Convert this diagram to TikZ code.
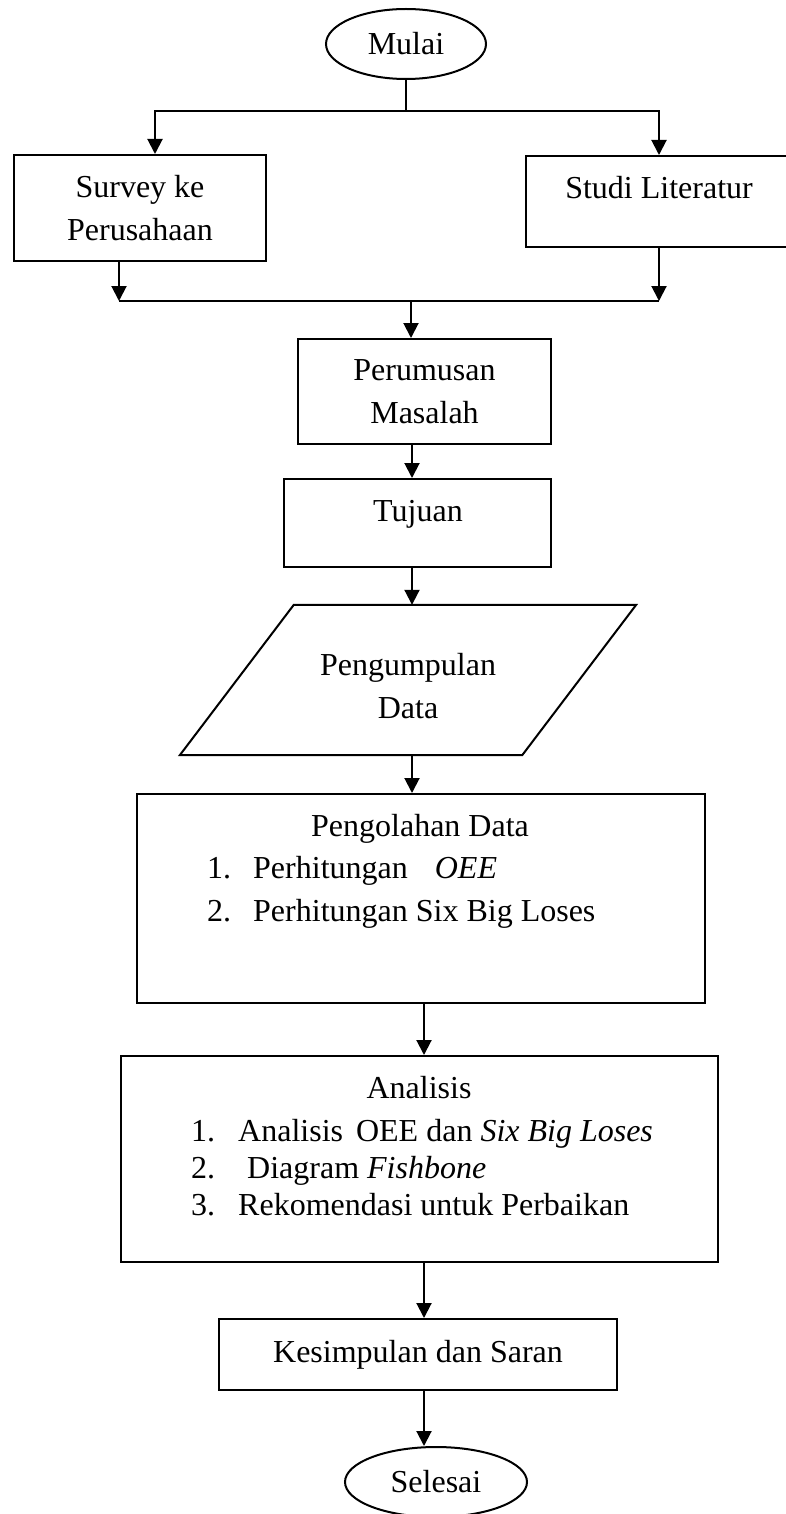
\documentclass[tikz,border=0pt]{standalone}
\usepackage{fontspec}
\setmainfont{Liberation Serif}
\usetikzlibrary{shapes.geometric}
\usetikzlibrary{arrows.meta}

\tikzset{
  kotak/.style={draw, line width=2pt, inner sep=0pt},
  oval/.style={draw, ellipse, line width=2pt, inner sep=0pt},
  teks/.style={inner sep=0pt, anchor=base},
  teksk/.style={inner sep=0pt, anchor=base west},
  panah/.style={line width=2pt, -{Triangle[length=15pt,width=15pt]}},
  garis/.style={line width=2pt}
}

\begin{document}
\begin{tikzpicture}[x=1pt, y=-1pt, every node/.style={font=\fontsize{32}{43}\selectfont, align=center}]
\useasboundingbox (0,0) rectangle (785,1514);

% Mulai
\node[oval, minimum width=160, minimum height=70] (mulai) at (406,44) {Mulai};

% Survey dan Studi Literatur
\node[kotak, minimum width=252, minimum height=106] (survey) at (140,208) {Survey ke\\Perusahaan};
\node[kotak, minimum width=266, minimum height=91] (studi) at (659,201.5) {};
\node[teks] (studiT) at (659,199) {Studi Literatur};

% Perumusan Masalah
\node[kotak, minimum width=253, minimum height=105] (rumus) at (424.5,391.5) {Perumusan\\Masalah};

% Tujuan
\node[kotak, minimum width=267, minimum height=88] (tujuan) at (417.5,523) {};
\node[teks] (tujuanT) at (418,521) {Tujuan};

% Pengumpulan Data (jajaran genjang)
\node[inner sep=0pt, minimum width=342, minimum height=150] (kumpul) at (408,680) {};
\draw[garis] ([xshift=57pt]kumpul.north west) -- ([xshift=57pt]kumpul.north east)
  -- ([xshift=-57pt]kumpul.south east) -- ([xshift=-57pt]kumpul.south west) -- cycle;
\node[teks] (kumpulT) at (408,718) {Pengumpulan\\Data};

% Pengolahan Data
\node[kotak, minimum width=568, minimum height=209] (olah) at (421,898.5) {};
\node[teks] (olahT) at (420,836) {Pengolahan Data};
\node[teksk] (olah1n) at (207,878) {1.};
\node[teksk] (olah1) at (253,878) {Perhitungan\hspace{27pt}\textit{OEE}};
\node[teksk] (olah2n) at (207,921) {2.};
\node[teksk] (olah2) at (253,921) {Perhitungan Six Big Loses};

% Analisis
\node[kotak, minimum width=597, minimum height=206] (analisis) at (419.5,1159) {};
\node[teks] (analisisT) at (419,1098) {Analisis};
\node[teksk] (anal1n) at (191,1141) {1.};
\node[teksk] (anal1) at (238,1141) {Analisis\hspace{13pt}OEE dan \textit{Six Big Loses}};
\node[teksk] (anal2n) at (191,1178) {2.};
\node[teksk] (anal2) at (247,1178) {Diagram \textit{Fishbone}};
\node[teksk] (anal3n) at (191,1215) {3.};
\node[teksk] (anal3) at (238,1215) {Rekomendasi untuk Perbaikan};

% Kesimpulan dan Selesai
\node[kotak, minimum width=398, minimum height=71] (simpul) at (418,1354.5) {Kesimpulan dan Saran};
\node[oval, minimum width=182, minimum height=70] (selesai) at (436,1482) {Selesai};

% Percabangan atas
\coordinate (cabang) at (406,111);
\coordinate (gabung) at (411,301);
\draw[garis] (mulai.south) -- (cabang);
\draw[panah] (cabang) -| ([xshift=15pt]survey.north);
\draw[panah] (cabang) -| (studi.north);

% Penggabungan
\draw[panah] ([xshift=-21pt]survey.south) -- ([xshift=-21pt]survey.south |- gabung);
\draw[panah] (studi.south) -- (studi.south |- gabung);
\draw[garis] ([xshift=-21pt]survey.south |- gabung) -- (studi.south |- gabung);
\draw[panah] (gabung) -- (gabung |- rumus.north);

% Alur utama
\foreach \a/\b/\x in {rumus/tujuan/412, tujuan/kumpul/412, kumpul/olah/412,
                      olah/analisis/424, analisis/simpul/424, simpul/selesai/424}
  \draw[panah] (\x,0 |- \a.south) -- (\x,0 |- \b.north);

\end{tikzpicture}
\end{document}
